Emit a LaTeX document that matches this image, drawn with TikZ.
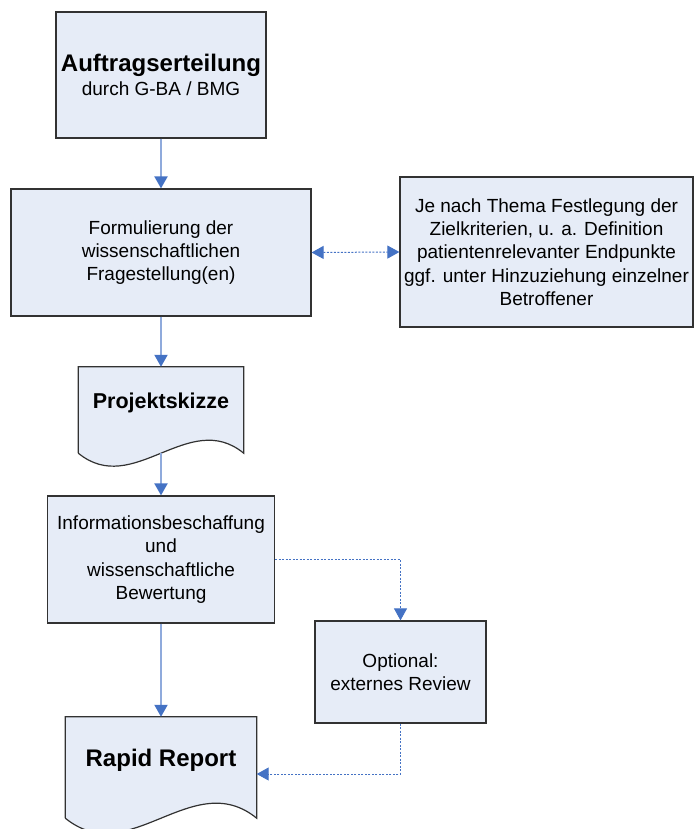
\documentclass[tikz,border=0pt]{standalone}
\usepackage{fontspec}
\setmainfont{Liberation Sans}
\usetikzlibrary{arrows.meta,calc}

\definecolor{kastenblau}{RGB}{230,236,247}
\definecolor{randgrau}{RGB}{50,50,50}
\definecolor{pfeilblau}{RGB}{68,114,196}
\definecolor{linienblau}{RGB}{143,170,220}

\tikzset{
  kasten/.style={draw=randgrau,line width=1.2pt,fill=kastenblau,align=center,
    inner sep=0pt,font=\fontsize{19}{23.3}\selectfont},
  dokument/.style={inner sep=0pt},
  dokrand/.style={draw=randgrau,line width=1.2pt,fill=kastenblau},
  titel/.style={font=\fontsize{21.5}{24}\selectfont\bfseries},
  spitze/.style={-{Triangle[width=13pt,length=12pt,color=pfeilblau]}},
  fluss/.style={spitze,draw=linienblau,line width=2pt},
  option/.style={spitze,draw=pfeilblau,line width=1pt,dash pattern=on 2pt off 1.5pt},
  beide/.style={{Triangle[width=13pt,length=12pt,color=pfeilblau]}-{Triangle[width=13pt,length=12pt,color=pfeilblau]},
    draw=pfeilblau,line width=1pt,dash pattern=on 2pt off 1.5pt}
}

\begin{document}
\begin{tikzpicture}[x=1pt,y=-1pt]
  \useasboundingbox (0,0) rectangle (694,829);
  \clip (0,0) rectangle (694,829);
%kaesten
  \node[kasten,minimum width=210pt,minimum height=126pt] (auftrag) at (161,75)
    {{\fontsize{24}{24}\selectfont\bfseries Auftragserteilung}\\durch G-BA / BMG};
  \node[kasten,minimum width=300pt,minimum height=127pt] (frage) at (161,252.5)
    {Formulierung der\\wissenschaftlichen\\Fragestellung(en)};
  \node[kasten,minimum width=293pt,minimum height=150pt] (ziel) at (546.5,252)
    {Je nach Thema Festlegung der\\Zielkriterien, u. a. Definition\\patientenrelevanter Endpunkte\\ggf. unter Hinzuziehung einzelner\\Betroffener};
  \node[kasten,minimum width=227pt,minimum height=127pt] (info) at (161,559.5)
    {Informationsbeschaffung\\und\\wissenschaftliche\\Bewertung};
  \node[kasten,minimum width=171pt,minimum height=102pt] (review) at (400.5,672)
    {Optional:\\externes Review};
%dokumente
  \node[dokument,minimum width=165pt,minimum height=86pt] (skizze) at (161,410) {};
  \filldraw[dokrand] (skizze.south west) -- (skizze.north west) -- (skizze.north east) -- (skizze.south east)
    .. controls +(-55,-45) and +(55,45) .. (skizze.south west);
  \node[titel] at ([yshift=7pt]skizze.center) {Projektskizze};
  \node[dokument,minimum width=191pt,minimum height=101pt] (rapid) at (161,767.5) {};
  \filldraw[dokrand] (rapid.south west) -- (rapid.north west) -- (rapid.north east) -- (rapid.south east)
    .. controls +(-64,-52) and +(64,52) .. (rapid.south west);
  \node[titel,font=\fontsize{24}{24}\selectfont\bfseries] at ([yshift=7pt]rapid.center) {Rapid Report};
%pfeile
  \draw[fluss] (auftrag.south) -- (frage.north);
  \draw[fluss] (frage.south) -- (skizze.north);
  \draw[fluss] (skizze.south) -- (info.north);
  \draw[fluss] (info.south) -- (rapid.north);
  \draw[beide] (frage.east) -- (ziel.west);
  \draw[option] (info.east) -| (review.north);
  \draw[option] (review.south) |- ([yshift=-6.5pt]rapid.east);
\end{tikzpicture}
\end{document}
